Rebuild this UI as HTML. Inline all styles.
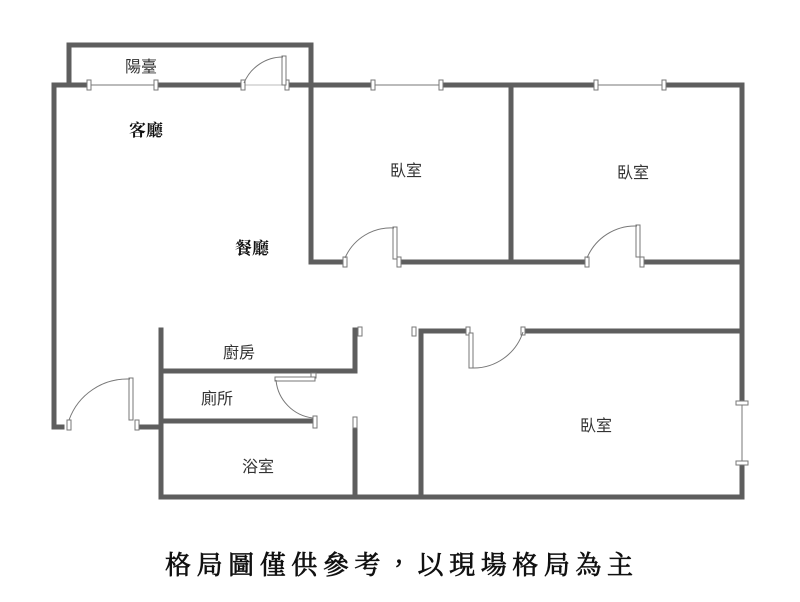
<!DOCTYPE html>
<html><head><meta charset="utf-8"><style>
html,body{margin:0;padding:0;background:#fff;}
svg{display:block}
</style></head><body>
<svg width="800" height="602" viewBox="0 0 800 602" xmlns="http://www.w3.org/2000/svg">
<g stroke="#5e5e5e" stroke-width="5" fill="none" stroke-linecap="square">
<polyline points="69,85 69,45 311,45 311,85"/>
<line x1="54" y1="85" x2="88" y2="85"/>
<line x1="157" y1="85" x2="242" y2="85"/>
<line x1="289" y1="85" x2="372" y2="85"/>
<line x1="443" y1="85" x2="596" y2="85"/>
<line x1="665" y1="85" x2="742" y2="85"/>
<line x1="54" y1="85" x2="54" y2="427"/>
<line x1="54" y1="427" x2="62" y2="427"/>
<line x1="142" y1="427" x2="160" y2="427"/>
<line x1="311" y1="85" x2="311" y2="262"/>
<line x1="311" y1="262" x2="343" y2="262"/>
<line x1="402" y1="262" x2="585" y2="262"/>
<line x1="511" y1="85" x2="511" y2="262"/>
<line x1="645" y1="262" x2="742" y2="262"/>
<line x1="742" y1="85" x2="742" y2="400"/>
<line x1="742" y1="465" x2="742" y2="497"/>
<line x1="421" y1="331" x2="466" y2="331"/>
<line x1="525" y1="331" x2="737" y2="331"/>
<line x1="421" y1="331" x2="421" y2="497"/>
<line x1="161" y1="497" x2="742" y2="497"/>
<line x1="161" y1="330" x2="161" y2="497"/>
<line x1="161" y1="371" x2="355" y2="371"/>
<line x1="355" y1="330" x2="355" y2="371"/>
<line x1="161" y1="421" x2="313" y2="421"/>
<line x1="355" y1="430" x2="355" y2="497"/>
</g>
<g stroke="#777" stroke-width="1" fill="#fff">
<line x1="88" y1="85" x2="157" y2="85"/>
<line x1="372" y1="85" x2="443" y2="85"/>
<line x1="596" y1="85" x2="665" y2="85"/>
<line x1="742" y1="400" x2="742" y2="465"/>
<rect x="87" y="80" width="4" height="10"/><rect x="154" y="80" width="4" height="10"/>
<rect x="371" y="80" width="4" height="10"/><rect x="439" y="80" width="4" height="10"/>
<rect x="594" y="80" width="4" height="10"/><rect x="662" y="80" width="4" height="10"/>
<rect x="736" y="401" width="12" height="4"/><rect x="736" y="461" width="12" height="4"/>
<line x1="243" y1="85" x2="287" y2="85" stroke="#bbb"/>
<rect x="241" y="80" width="4" height="10"/><rect x="285" y="80" width="4" height="10"/>
<rect x="282" y="56" width="4" height="29"/>
<path d="M244,83 A42,42 0 0 1 283,57" fill="none"/>
<rect x="67" y="420" width="4" height="10"/><rect x="135" y="420" width="4" height="10"/>
<rect x="129" y="378" width="4" height="42"/>
<path d="M69,420 A62,62 0 0 1 130,379" fill="none"/>
<rect x="343" y="257" width="4" height="10"/><rect x="397" y="257" width="4" height="10"/>
<rect x="393" y="227" width="4" height="32"/>
<path d="M345,258 A50,50 0 0 1 394,228" fill="none"/>
<rect x="585" y="257" width="4" height="10"/><rect x="640" y="257" width="4" height="10"/>
<rect x="636" y="225" width="4" height="32"/>
<path d="M587,258 A52,52 0 0 1 637,226" fill="none"/>
<rect x="466" y="327" width="4" height="8"/><rect x="521" y="327" width="4" height="8"/>
<rect x="469" y="333" width="4" height="35"/>
<path d="M472,368 A52,52 0 0 0 523,332" fill="none"/>
<rect x="311" y="373" width="5" height="5"/><rect x="275" y="377" width="40" height="4"/>
<path d="M276,380 A42,42 0 0 0 313,418" fill="none"/>
<rect x="313" y="416" width="4" height="12"/>
<rect x="358" y="327" width="4" height="9"/>
<rect x="412" y="327" width="4" height="9"/>
<rect x="353" y="417" width="4" height="11"/>
</g>
<g font-family="'Liberation Sans','Noto Sans CJK TC',sans-serif" font-size="16" fill="#333" text-anchor="middle">
<text x="141" y="72">陽臺</text>
<text x="406" y="176">臥室</text>
<text x="633" y="178">臥室</text>
<text x="596" y="431">臥室</text>
<text x="239" y="358">廚房</text>
<text x="217" y="404">廁所</text>
<text x="258" y="472">浴室</text>
</g>
<g font-family="'Liberation Serif','Noto Serif CJK SC',serif" font-size="17" font-weight="bold" fill="#111" text-anchor="middle">
<text x="146" y="136">客廳</text>
<text x="252" y="254">餐廳</text>
</g>
<text x="165" y="574" font-family="'Noto Serif CJK TC','Noto Serif CJK SC',serif" font-size="26" fill="#111" stroke="#111" stroke-width="0.7" textLength="468" lengthAdjust="spacing">格局圖僅供參考，以現場格局為主</text>
</svg>
</body></html>
